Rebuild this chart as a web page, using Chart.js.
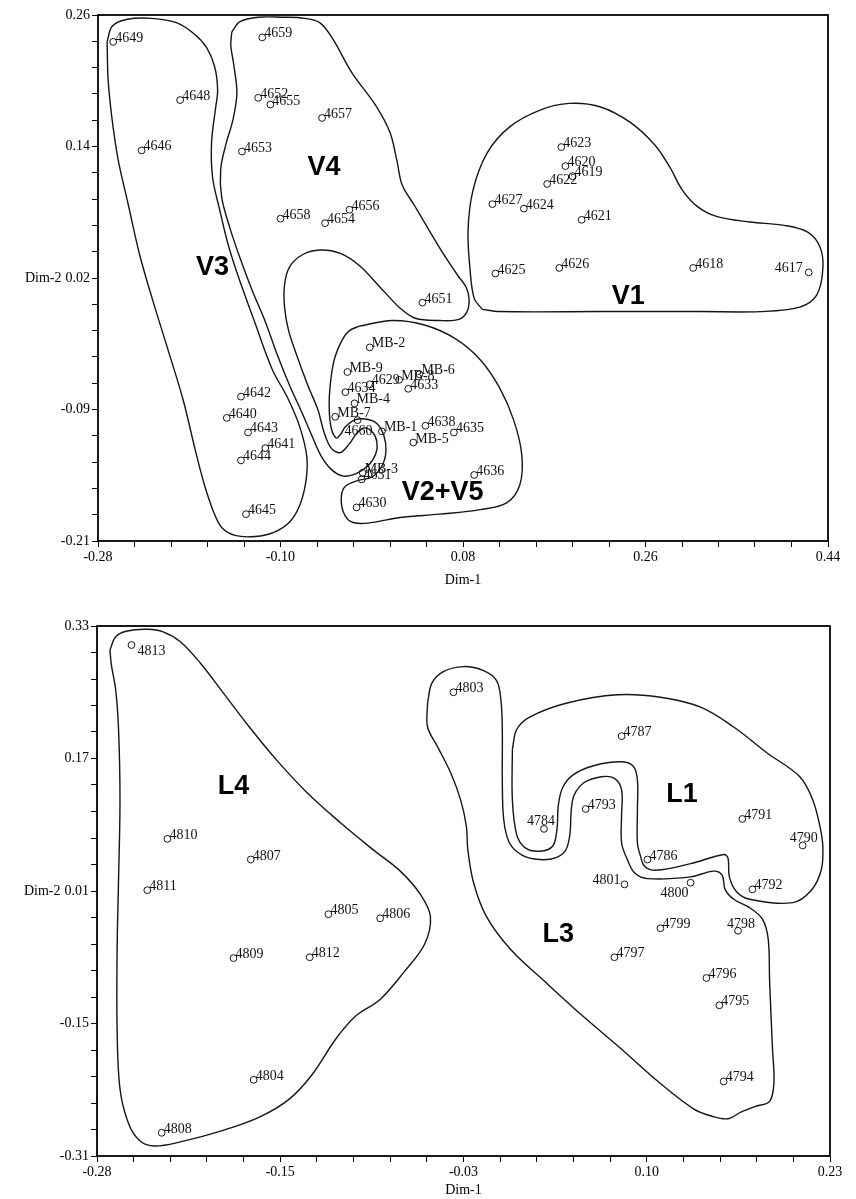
<!DOCTYPE html>
<html><head><meta charset="utf-8">
<script src="https://cdn.jsdelivr.net/npm/chart.js@4"></script>
<style>
html,body{margin:0;padding:0;background:#fff;}
#wrap{position:relative;width:856px;height:1199px;overflow:hidden;}
canvas{position:absolute;left:0;}
</style></head><body>
<div id="wrap">
<canvas id="c1" style="top:0px" width="856" height="590"></canvas>
<canvas id="c2" style="top:600px" width="856" height="599"></canvas>
</div>
<script>
// ---------- TOP CHART DATA ----------
const topNames = ['4649','4648','4646','4659','4652','4655','4657','4653','4658','4654','4656',
  '4623','4620','4619','4622','4627','4624','4621','4625','4626','4618','4617','4651',
  'MB-2','MB-9','4629','MB-8','MB-6','4633','4634','MB-4','MB-7','4660','MB-1','4638','4635','MB-5',
  'MB-3','4631','4636','4630','4642','4640','4643','4641','4644','4645'];
const topX = [-0.265,-0.199,-0.237,-0.118,-0.122,-0.110,-0.059,-0.138,-0.100,-0.056,-0.032,
  0.177,0.181,0.188,0.163,0.109,0.140,0.197,0.112,0.175,0.307,0.421,0.040,
  -0.012,-0.034,-0.012,0.017,0.037,0.026,-0.036,-0.027,-0.046,-0.024,0.000,0.043,0.071,0.031,
  -0.019,-0.020,0.091,-0.025,-0.139,-0.153,-0.132,-0.115,-0.139,-0.134];
const topY = [0.236,0.184,0.139,0.240,0.186,0.180,0.168,0.138,0.078,0.074,0.086,
  0.142,0.125,0.116,0.109,0.091,0.087,0.077,0.029,0.034,0.034,0.030,0.003,
  -0.037,-0.059,-0.070,-0.066,-0.061,-0.074,-0.077,-0.087,-0.099,-0.102,-0.112,-0.107,-0.113,-0.122,
  -0.149,-0.155,-0.151,-0.180,-0.081,-0.100,-0.113,-0.127,-0.138,-0.186];
const topXTickLabels = ['-0.28','-0.10','0.08','0.26','0.44'];
const topYTickLabels = ['-0.21','-0.09','0.02','0.14','0.26'];
const topGroupNames = ['V3','V4','V1','V2+V5'];
const topGroupX = [-0.167,-0.057,0.243,0.060];
const topGroupY = [0.034,0.124,0.008,-0.167];

const contourV3 = [[-0.271,0.236],[-0.266,0.250],[-0.252,0.256],[-0.227,0.257],[-0.202,0.253],[-0.185,0.243],[-0.173,0.231],[-0.165,0.214],[-0.162,0.193],[-0.164,0.177],[-0.168,0.146],[-0.167,0.115],[-0.160,0.086],[-0.152,0.056],[-0.143,0.030],[-0.126,-0.013],[-0.108,-0.057],[-0.093,-0.082],[-0.081,-0.108],[-0.074,-0.135],[-0.075,-0.157],[-0.081,-0.178],[-0.091,-0.193],[-0.106,-0.202],[-0.125,-0.206],[-0.145,-0.205],[-0.158,-0.198],[-0.166,-0.184],[-0.175,-0.160],[-0.184,-0.129],[-0.196,-0.084],[-0.211,-0.039],[-0.226,0.005],[-0.239,0.046],[-0.250,0.090],[-0.260,0.130],[-0.266,0.166],[-0.270,0.202]];
const contourV4 = [[-0.148,0.245],[-0.140,0.254],[-0.122,0.258],[-0.098,0.258],[-0.076,0.257],[-0.061,0.253],[-0.048,0.238],[-0.030,0.209],[-0.006,0.179],[0.008,0.155],[0.015,0.129],[0.020,0.108],[0.032,0.090],[0.045,0.070],[0.061,0.046],[0.075,0.027],[0.083,0.017],[0.086,0.006],[0.084,-0.005],[0.076,-0.012],[0.057,-0.013],[0.033,-0.011],[0.018,-0.002],[-0.002,0.017],[-0.022,0.036],[-0.041,0.047],[-0.061,0.050],[-0.078,0.046],[-0.091,0.035],[-0.096,0.019],[-0.096,-0.001],[-0.092,-0.022],[-0.084,-0.044],[-0.073,-0.071],[-0.063,-0.093],[-0.057,-0.113],[-0.050,-0.127],[-0.041,-0.131],[-0.032,-0.123],[-0.025,-0.114],[-0.018,-0.109],[-0.010,-0.112],[-0.005,-0.121],[-0.006,-0.132],[-0.014,-0.143],[-0.026,-0.150],[-0.038,-0.152],[-0.050,-0.146],[-0.060,-0.134],[-0.069,-0.116],[-0.079,-0.095],[-0.091,-0.071],[-0.103,-0.044],[-0.115,-0.014],[-0.128,0.014],[-0.140,0.043],[-0.150,0.070],[-0.158,0.097],[-0.159,0.122],[-0.154,0.144],[-0.147,0.166],[-0.143,0.190],[-0.146,0.215],[-0.149,0.233]];
const contourV1 = [[0.099,-0.003],[0.091,0.007],[0.087,0.032],[0.085,0.068],[0.090,0.104],[0.104,0.137],[0.126,0.160],[0.156,0.175],[0.185,0.181],[0.215,0.178],[0.245,0.164],[0.269,0.144],[0.284,0.124],[0.296,0.104],[0.311,0.089],[0.330,0.080],[0.363,0.075],[0.397,0.072],[0.420,0.066],[0.432,0.053],[0.435,0.034],[0.429,0.010],[0.412,-0.001],[0.373,-0.005],[0.314,-0.005],[0.215,-0.005],[0.116,-0.005]];
const contourV25 = [[-0.022,-0.018],[0.010,-0.013],[0.042,-0.017],[0.072,-0.029],[0.097,-0.048],[0.116,-0.073],[0.130,-0.102],[0.138,-0.133],[0.136,-0.160],[0.123,-0.176],[0.097,-0.182],[0.057,-0.186],[0.018,-0.189],[-0.014,-0.194],[-0.030,-0.193],[-0.038,-0.184],[-0.040,-0.170],[-0.036,-0.161],[-0.024,-0.156],[-0.010,-0.153],[0.000,-0.143],[0.004,-0.130],[0.002,-0.116],[-0.005,-0.105],[-0.016,-0.101],[-0.027,-0.102],[-0.036,-0.108],[-0.041,-0.115],[-0.045,-0.118],[-0.050,-0.109],[-0.052,-0.091],[-0.051,-0.071],[-0.047,-0.048],[-0.039,-0.030],[-0.032,-0.022]];

// ---------- BOTTOM CHART DATA ----------
const botNames = ['4813','4810','4807','4811','4805','4806','4809','4812','4804','4808',
  '4803','4787','4793','4784','4791','4790','4786','4801','4800','4792','4799','4798','4797','4796','4795','4794'];
const botX = [-0.256,-0.231,-0.173,-0.245,-0.119,-0.083,-0.185,-0.132,-0.171,-0.235,
  -0.032,0.085,0.060,0.031,0.169,0.211,0.103,0.087,0.133,0.176,0.112,0.166,0.080,0.144,0.153,0.156];
const botY = [0.307,0.073,0.048,0.011,-0.018,-0.023,-0.071,-0.070,-0.218,-0.282,
  0.250,0.197,0.109,0.085,0.097,0.065,0.048,0.018,0.020,0.012,-0.035,-0.038,-0.070,-0.095,-0.128,-0.220];
const botXTickLabels = ['-0.28','-0.15','-0.03','0.10','0.23'];
const botYTickLabels = ['-0.31','-0.15','0.01','0.17','0.33'];
const botGroupNames = ['L4','L1','L3'];
const botGroupX = [-0.185,0.127,0.041];
const botGroupY = [0.136,0.126,-0.042];

const contourL4 = [[-0.271,0.301],[-0.267,0.317],[-0.259,0.324],[-0.245,0.326],[-0.234,0.323],[-0.222,0.311],[-0.208,0.285],[-0.192,0.249],[-0.174,0.208],[-0.155,0.168],[-0.134,0.129],[-0.111,0.093],[-0.088,0.060],[-0.069,0.034],[-0.055,0.006],[-0.048,-0.021],[-0.052,-0.054],[-0.066,-0.087],[-0.083,-0.121],[-0.100,-0.141],[-0.114,-0.169],[-0.130,-0.211],[-0.146,-0.241],[-0.167,-0.263],[-0.194,-0.280],[-0.222,-0.293],[-0.240,-0.298],[-0.250,-0.292],[-0.258,-0.271],[-0.264,-0.229],[-0.266,-0.157],[-0.266,-0.061],[-0.265,0.024],[-0.264,0.120],[-0.265,0.205],[-0.267,0.253],[-0.270,0.283]];
const contourL3 = [[-0.050,0.237],[-0.047,0.261],[-0.039,0.275],[-0.025,0.281],[-0.011,0.276],[-0.002,0.264],[0.001,0.241],[0.002,0.205],[0.002,0.144],[0.003,0.096],[0.007,0.068],[0.016,0.053],[0.028,0.048],[0.039,0.050],[0.046,0.059],[0.049,0.078],[0.050,0.108],[0.052,0.126],[0.059,0.141],[0.071,0.148],[0.080,0.146],[0.085,0.132],[0.085,0.102],[0.085,0.068],[0.089,0.048],[0.094,0.032],[0.103,0.025],[0.133,0.027],[0.149,0.034],[0.155,0.029],[0.157,0.012],[0.163,0.000],[0.174,-0.010],[0.183,-0.024],[0.187,-0.048],[0.188,-0.100],[0.190,-0.181],[0.191,-0.221],[0.188,-0.244],[0.178,-0.250],[0.168,-0.257],[0.159,-0.265],[0.148,-0.262],[0.135,-0.253],[0.111,-0.221],[0.085,-0.181],[0.058,-0.141],[0.032,-0.100],[0.008,-0.061],[-0.009,-0.021],[-0.018,0.020],[-0.022,0.060],[-0.023,0.088],[-0.027,0.120],[-0.034,0.153],[-0.043,0.184],[-0.050,0.208]];
const contourL1 = [[0.009,0.181],[0.012,0.205],[0.021,0.220],[0.047,0.237],[0.082,0.247],[0.112,0.244],[0.140,0.232],[0.163,0.208],[0.186,0.177],[0.209,0.148],[0.218,0.120],[0.223,0.088],[0.225,0.064],[0.224,0.036],[0.217,0.011],[0.204,-0.004],[0.174,0.000],[0.165,0.009],[0.160,0.027],[0.159,0.050],[0.156,0.054],[0.133,0.043],[0.109,0.035],[0.101,0.040],[0.098,0.053],[0.096,0.068],[0.096,0.108],[0.096,0.144],[0.093,0.161],[0.084,0.166],[0.065,0.161],[0.051,0.150],[0.044,0.135],[0.041,0.114],[0.040,0.084],[0.037,0.064],[0.028,0.058],[0.018,0.062],[0.012,0.078],[0.009,0.120]];

// ---------- presentation ----------
const serif = "'Liberation Serif','Times New Roman',serif";
const sans = "'Liberation Sans',Arial,sans-serif";
// label placement: [align, dx, dy] relative to the marker
const labelPlacement = {
  '4617':['right',-6,0], '4660':['left',-13,15],
  '4813':['left',6,10], '4784':['right',11,-4], '4790':['right',15,-3],
  '4801':['right',-4,0], '4800':['right',-2,14], '4798':['left',-11,-3]
};
const defaultPlacement = ['left',2,0];

function closedPts(arr){
  const pts = arr.map(p => ({x:p[0], y:p[1]}));
  pts.push({x:arr[0][0], y:arr[0][1]});
  return pts;
}

function makeChart(id, o){
  const datasets = o.contours.map(c => ({
    data: closedPts(c), showLine:true, tension:0.35, borderColor:'#151515', borderWidth:1.4,
    pointRadius:0, pointHoverRadius:0, fill:false
  }));
  datasets.push({
    data: o.xs.map((x,i) => ({x:x, y:o.ys[i]})), showLine:false,
    pointRadius:3.4, pointHoverRadius:3.4, pointBorderColor:'#151515',
    pointBackgroundColor:'rgba(255,255,255,0)', pointBorderWidth:1
  });
  const tickLen = 6;
  const mkTicks = (min,max) => scale => {
    const t = [];
    for (let i = 0; i <= 20; i++) t.push({value: min + (max-min)*i/20});
    scale.ticks = t;
  };
  return new Chart(document.getElementById(id), {
    type:'scatter',
    data:{datasets:datasets},
    options:{
      responsive:false, animation:false, events:[],
      layout:{padding:{top:o.padTop, right:o.padRight, left:0, bottom:0}},
      plugins:{legend:{display:false}, tooltip:{enabled:false}},
      scales:{
        x:{
          type:'linear', min:o.xmin, max:o.xmax, bounds:'data',
          afterBuildTicks: mkTicks(o.xmin,o.xmax),
          afterFit: s => { s.height = o.xAxisH; },
          grid:{display:true, drawOnChartArea:false, drawTicks:true, tickLength:tickLen, color:'#000', lineWidth:1},
          border:{display:false},
          ticks:{autoSkip:false, maxRotation:0, minRotation:0, padding:2, color:'#000',
            font:{family:serif, size:14},
            callback:(v,i) => (i%5===0 ? o.xLabels[i/5] : '')},
          title:{display:true, text:'Dim-1', color:'#000', font:{family:serif, size:14}, padding:{top:0,bottom:o.titlePad}}
        },
        y:{
          type:'linear', min:o.ymin, max:o.ymax, bounds:'data',
          afterBuildTicks: mkTicks(o.ymin,o.ymax),
          afterFit: s => { s.width = o.yAxisW; },
          grid:{display:true, drawOnChartArea:false, drawTicks:true, tickLength:tickLen, color:'#000', lineWidth:1},
          border:{display:false},
          ticks:{autoSkip:false, padding:2, color:'#000', font:{family:serif, size:14},
            callback:(v,i) => (i%5===0 ? o.yLabels[i/5] : '')}
        }
      }
    },
    plugins:[{
      id:'deco_'+id,
      afterDatasetsDraw(chart){
        const ctx = chart.ctx, a = chart.chartArea, xs = chart.scales.x, ys = chart.scales.y;
        ctx.save();
        ctx.strokeStyle = '#000'; ctx.lineWidth = 1.8;
        ctx.strokeRect(a.left, a.top, a.right - a.left, a.bottom - a.top);
        // point labels
        ctx.fillStyle = '#111'; ctx.font = '14px ' + serif; ctx.textBaseline = 'alphabetic';
        o.names.forEach((n,i) => {
          const px = xs.getPixelForValue(o.xs[i]), py = ys.getPixelForValue(o.ys[i]);
          const p = labelPlacement[n] || defaultPlacement;
          ctx.textAlign = p[0];
          ctx.fillText(n, px + p[1], py + p[2]);
        });
        // group labels
        ctx.fillStyle = '#000'; ctx.font = 'bold 27px ' + sans; ctx.textAlign = 'center'; ctx.textBaseline = 'middle';
        o.groups.forEach((g,i) => {
          ctx.fillText(g, xs.getPixelForValue(o.gx[i]), ys.getPixelForValue(o.gy[i]));
        });
        // Dim-2 axis title, beside the middle tick label
        ctx.font = '14px ' + serif; ctx.textAlign = 'right'; ctx.textBaseline = 'middle';
        const mid = (o.ymin + o.ymax)/2;
        const yMid = ys.getPixelForValue(mid);
        const w = ctx.measureText(o.yLabels[2]).width;
        ctx.fillText('Dim-2', a.left - tickLen - 2 - w - 4, yMid);
        ctx.restore();
      }
    }]
  });
}

makeChart('c1', {
  names:topNames, xs:topX, ys:topY, xLabels:topXTickLabels, yLabels:topYTickLabels,
  groups:topGroupNames, gx:topGroupX, gy:topGroupY,
  contours:[contourV3, contourV4, contourV1, contourV25],
  xmin:-0.28, xmax:0.44, ymin:-0.21, ymax:0.26,
  padTop:15, padRight:28, yAxisW:98, xAxisH:49, titlePad:1
});
makeChart('c2', {
  names:botNames, xs:botX, ys:botY, xLabels:botXTickLabels, yLabels:botYTickLabels,
  groups:botGroupNames, gx:botGroupX, gy:botGroupY,
  contours:[contourL4, contourL3, contourL1],
  xmin:-0.28, xmax:0.23, ymin:-0.31, ymax:0.33,
  padTop:26, padRight:26, yAxisW:97, xAxisH:43, titlePad:0
});
</script>
</body></html>
